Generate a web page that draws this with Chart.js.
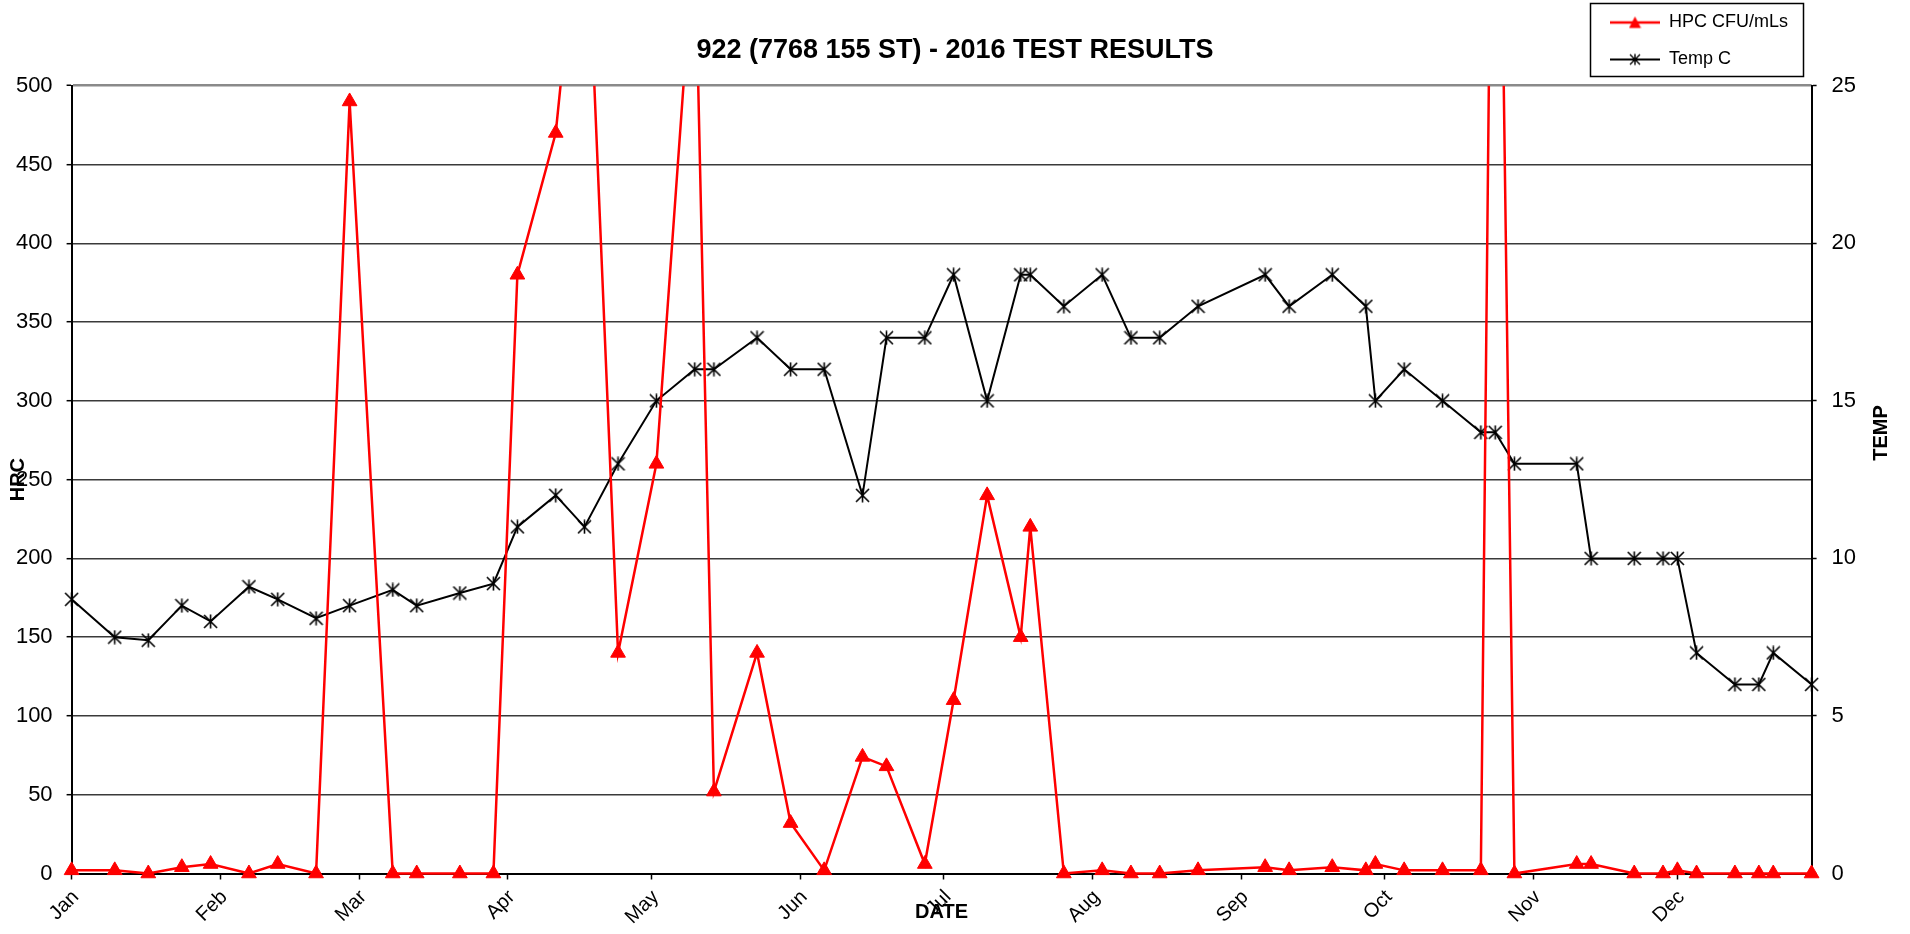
<!DOCTYPE html>
<html>
<head>
<meta charset="utf-8">
<title>922 (7768 155 ST) - 2016 TEST RESULTS</title>
<script src="https://cdn.jsdelivr.net/npm/chart.js@4.4.1/dist/chart.umd.min.js"></script>
<style>
  html, body { margin: 0; padding: 0; background: #fff; }
</style>
</head>
<body>
<canvas id="chart" width="1910" height="934"></canvas>
<script>
"use strict";

// Sampling dates for 2016 and the two measured series
const SAMPLE_DATES = [
  "2016-01-01", "2016-01-10", "2016-01-17", "2016-01-24", "2016-01-30",
  "2016-02-07", "2016-02-13", "2016-02-21", "2016-02-28", "2016-03-08",
  "2016-03-13", "2016-03-22", "2016-03-29", "2016-04-03", "2016-04-11",
  "2016-04-17", "2016-04-24", "2016-05-02", "2016-05-10", "2016-05-14",
  "2016-05-23", "2016-05-30", "2016-06-06", "2016-06-14", "2016-06-19",
  "2016-06-27", "2016-07-03", "2016-07-10", "2016-07-17", "2016-07-19",
  "2016-07-26", "2016-08-03", "2016-08-09", "2016-08-15", "2016-08-23",
  "2016-09-06", "2016-09-11", "2016-09-20", "2016-09-27", "2016-09-29",
  "2016-10-05", "2016-10-13", "2016-10-21", "2016-10-24", "2016-10-28",
  "2016-11-10", "2016-11-13", "2016-11-22", "2016-11-28", "2016-12-01",
  "2016-12-05", "2016-12-13", "2016-12-18", "2016-12-21", "2016-12-29",
];

const HPC_CFU = [
  2, 2, 0, 4, 6,
  0, 6, 0, 490, 0,
  0, 0, 0, 380, 470,
  650, 140, 260, 600, 52,
  140, 32, 2, 74, 68,
  6, 110, 240, 150, 220,
  0, 2, 0, 0, 2,
  4, 2, 4, 2, 6,
  2, 2, 2, 900, 0,
  6, 6, 0, 0, 2,
  0, 0, 0, 0, 0,
];

const TEMP_C = [
  8.7, 7.5, 7.4, 8.5, 8.0,
  9.1, 8.7, 8.1, 8.5, 9.0,
  8.5, 8.9, 9.2, 11, 12,
  11, 13, 15, 16, 16,
  17, 16, 16, 12, 17,
  17, 19, 15, 19, 19,
  18, 19, 17, 17, 18,
  19, 18, 19, 18, 15,
  16, 15, 14, 14, 13,
  13, 10, 10, 10, 10,
  7, 6, 6, 7, 6,
];

const MONTHS = ["Jan", "Feb", "Mar", "Apr", "May", "Jun", "Jul", "Aug", "Sep", "Oct", "Nov", "Dec"];

const HRC_TICKS = { min: 0, max: 500, step: 50 };
const TEMP_TICKS = { min: 0, max: 25, step: 5 };

const FONT = '"Liberation Sans", Arial, sans-serif';

// day index from 1 Jan 2016
const DAY_MS = 86400000;
const YEAR_START = Date.UTC(2016, 0, 1);
const dayOf = (iso) => {
  const [y, m, d] = iso.split("-").map(Number);
  return Math.round((Date.UTC(y, m - 1, d) - YEAR_START) / DAY_MS);
};
const DAYS = SAMPLE_DATES.map(dayOf);
const MONTH_STARTS = MONTHS.map((_, i) => Math.round((Date.UTC(2016, i, 1) - YEAR_START) / DAY_MS));
const LAST_DAY = DAYS[DAYS.length - 1];

// --- marker images --------------------------------------------------------
function starMark(size, lw) {
  const c = document.createElement("canvas");
  c.width = size; c.height = size;
  const g = c.getContext("2d");
  const m = size / 2, r = size / 2 - 1;
  g.strokeStyle = "#000";
  g.lineWidth = lw;
  g.beginPath();
  g.moveTo(m - r, m - r); g.lineTo(m + r, m + r);
  g.moveTo(m + r, m - r); g.lineTo(m - r, m + r);
  g.moveTo(m, m - r - 0.5); g.lineTo(m, m + r + 0.5);
  g.stroke();
  return c;
}

function triangleMark(size) {
  const c = document.createElement("canvas");
  c.width = size; c.height = size;
  const g = c.getContext("2d");
  g.fillStyle = "#FF0000";
  g.beginPath();
  g.moveTo(size / 2, 0.5);
  g.lineTo(size - 0.5, size - 1);
  g.lineTo(0.5, size - 1);
  g.closePath();
  g.fill();
  return c;
}

// legend swatch: line segment with the marker in its middle
function swatch(color, lineW, mark) {
  const c = document.createElement("canvas");
  c.width = 50; c.height = 16;
  const g = c.getContext("2d");
  g.strokeStyle = color;
  g.lineWidth = lineW;
  g.beginPath(); g.moveTo(0, 8); g.lineTo(50, 8); g.stroke();
  g.drawImage(mark, 25 - mark.width / 2, 8 - mark.height / 2);
  return c;
}

const STAR = starMark(15, 1.6);
const SWATCHES = [
  swatch("#FF0000", 2.5, triangleMark(13)),
  swatch("#000000", 2, starMark(12, 1.4)),
];

// --- legend box + right axis title ---------------------------------------
const LEGEND_BOX = { x: 1590.5, y: 3.5, w: 213, h: 73 };

const boxedLegend = {
  id: "boxedLegend",
  beforeLayout(chart) {
    const lg = chart.legend;
    if (lg && !lg._boxed) {
      const fit = lg.fit;
      // keep the legend out of the layout, it is placed by hand below
      lg.fit = function () { fit.call(this); this.width = 0; };
      lg._boxed = true;
    }
  },
  afterLayout(chart) {
    const lg = chart.legend;
    if (!lg) return;
    lg.left = LEGEND_BOX.x + 0.5;
    lg.right = LEGEND_BOX.x + LEGEND_BOX.w;
    lg.width = LEGEND_BOX.w;
    lg.top = -5.5;
    lg.bottom = 300;
    lg.height = 306;
  },
  afterDraw(chart) {
    const ctx = chart.ctx;
    ctx.save();
    ctx.strokeStyle = "#000";
    ctx.lineWidth = 1.5;
    ctx.strokeRect(LEGEND_BOX.x, LEGEND_BOX.y, LEGEND_BOX.w, LEGEND_BOX.h);

    // right axis title reads bottom-to-top like the left one
    ctx.translate(1881, 433);
    ctx.rotate(-Math.PI / 2);
    ctx.font = "bold 20px " + FONT;
    ctx.fillStyle = "#000";
    ctx.textAlign = "center";
    ctx.textBaseline = "middle";
    ctx.fillText("TEMP", 0, 0);
    ctx.restore();
  },
};

Chart.defaults.font.family = FONT;
Chart.defaults.color = "#000";

const ctx = document.getElementById("chart").getContext("2d");

new Chart(ctx, {
  type: "line",
  data: {
    datasets: [
      {
        label: "HPC CFU/mLs",
        data: DAYS.map((d, i) => ({ x: d, y: HPC_CFU[i] })),
        yAxisID: "y",
        borderColor: "#FF0000",
        backgroundColor: "#FF0000",
        borderWidth: 2.5,
        pointStyle: "triangle",
        pointRadius: 8.5,
        pointBorderWidth: 1,
        pointBackgroundColor: "#FF0000",
        pointBorderColor: "#FF0000",
        tension: 0,
        clip: { left: false, top: 0, right: false, bottom: false },
      },
      {
        label: "Temp C",
        data: DAYS.map((d, i) => ({ x: d, y: TEMP_C[i] })),
        yAxisID: "y1",
        borderColor: "#000000",
        backgroundColor: "#000000",
        borderWidth: 2,
        pointStyle: STAR,
        pointRadius: 7,
        tension: 0,
        clip: false,
      },
    ],
  },
  options: {
    responsive: false,
    animation: false,
    devicePixelRatio: 1,
    layout: { padding: 0 },
    plugins: {
      title: {
        display: true,
        text: "922 (7768 155 ST) - 2016 TEST RESULTS",
        color: "#000",
        font: { size: 27, weight: "bold", lineHeight: 1.2 },
        padding: { top: 34.5, bottom: 18.8 },
      },
      legend: {
        display: true,
        position: "right",
        align: "start",
        labels: {
          usePointStyle: true,
          pointStyleWidth: 50,
          padding: 19,
          color: "#000",
          font: { size: 18 },
          generateLabels: (chart) => chart.data.datasets.map((ds, i) => ({
            text: ds.label,
            datasetIndex: i,
            pointStyle: SWATCHES[i],
            fillStyle: ds.borderColor,
            strokeStyle: ds.borderColor,
            lineWidth: 0,
            fontColor: "#000",
            hidden: !chart.isDatasetVisible(i),
          })),
        },
      },
      tooltip: { enabled: false },
    },
    scales: {
      x: {
        type: "linear",
        min: 0,
        max: LAST_DAY,
        afterBuildTicks: (s) => { s.ticks = MONTH_STARTS.map((v) => ({ value: v })); },
        afterFit: (s) => { s.height = 60.5; },
        ticks: {
          autoSkip: false,
          minRotation: 45,
          maxRotation: 45,
          labelOffset: 4,
          padding: 6,
          font: { size: 20 },
          callback: (v, i) => MONTHS[i],
        },
        grid: { drawOnChartArea: false, drawTicks: true, tickLength: 6, tickColor: "#000", tickWidth: 1.5 },
        border: { color: "#000", width: 2 },
        title: {
          display: true,
          text: "DATE",
          font: { size: 20, weight: "bold" },
          padding: { top: 0, bottom: 10 },
        },
      },
      y: {
        position: "left",
        min: HRC_TICKS.min,
        max: HRC_TICKS.max,
        afterFit: (s) => { s.width = 71.6; },
        ticks: { stepSize: HRC_TICKS.step, padding: 14, font: { size: 22 } },
        grid: {
          color: (c) => (c.tick && c.tick.value === HRC_TICKS.max ? "#8a8a8a" : "#3a3a3a"),
          lineWidth: (c) => (c.tick && c.tick.value === HRC_TICKS.max ? 2.5 : 1.4),
          tickLength: 5,
          tickColor: "#000",
          tickWidth: 1.5,
        },
        border: { color: "#000", width: 2 },
        title: {
          display: true,
          text: "HRC",
          font: { size: 20, weight: "bold" },
          padding: { top: 6, bottom: 0 },
        },
      },
      y1: {
        position: "right",
        min: TEMP_TICKS.min,
        max: TEMP_TICKS.max,
        afterFit: (s) => { s.width = 98.4; },
        ticks: { stepSize: TEMP_TICKS.step, padding: 15, font: { size: 22 } },
        grid: { drawOnChartArea: false, tickLength: 5, tickColor: "#000", tickWidth: 1.5 },
        border: { color: "#000", width: 2 },
      },
    },
  },
  plugins: [boxedLegend],
});
</script>
</body>
</html>
